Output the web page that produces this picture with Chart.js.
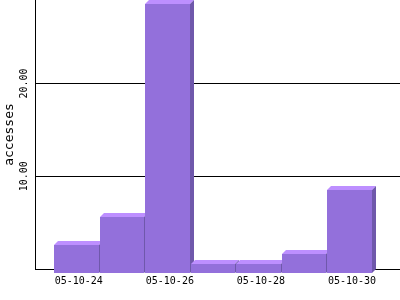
<!DOCTYPE html>
<html>
<head>
<meta charset="utf-8">
<script src="https://cdn.jsdelivr.net/npm/chart.js@4/dist/chart.umd.min.js"></script>
<style>
  html, body { margin: 0; padding: 0; background: #ffffff; }
  #wrap { width: 400px; height: 300px; }
</style>
</head>
<body>
<div id="wrap"><canvas id="c" width="400" height="300"></canvas></div>
<script>
// ---- data ----
const categories = ['05-10-24', '05-10-25', '05-10-26', '05-10-27', '05-10-28', '05-10-29', '05-10-30'];
const accesses   = [3, 6, 29, 1, 1, 2, 9];
const yTickValues = [10, 20];
const yAxisTitle = 'accesses';

// ---- style ----
const FRONT = '#9370db';
const TOP   = '#bd8fff';
const SIDE  = '#6f58ab';
const DEPTH = 4;

const bar3d = {
  id: 'bar3d',
  afterDatasetsDraw(chart) {
    const ctx = chart.ctx;
    const meta = chart.getDatasetMeta(0);
    ctx.save();
    meta.data.forEach(el => {
      const p = el.getProps(['x', 'y', 'base', 'width'], true);
      const half = DEPTH / 2;
      const L = Math.round(p.x - p.width / 2 - half);
      const R = Math.round(p.x + p.width / 2 - half) - 1;
      const T = Math.round(p.y + DEPTH);
      const B = Math.round(p.base + DEPTH);
      ctx.fillStyle = FRONT;
      ctx.fillRect(L, T, R - L, B - T);
      ctx.fillStyle = TOP;
      ctx.beginPath();
      ctx.moveTo(L, T);
      ctx.lineTo(L + DEPTH, T - DEPTH);
      ctx.lineTo(R + DEPTH, T - DEPTH);
      ctx.lineTo(R, T);
      ctx.closePath();
      ctx.fill();
      ctx.fillStyle = SIDE;
      ctx.beginPath();
      ctx.moveTo(R, T);
      ctx.lineTo(R + DEPTH, T - DEPTH);
      ctx.lineTo(R + DEPTH, B - DEPTH);
      ctx.lineTo(R, B);
      ctx.closePath();
      ctx.fill();
    });
    ctx.restore();
  }
};

const points = categories.map((c, i) => ({ x: i, y: accesses[i] }));

new Chart(document.getElementById('c'), {
  type: 'bar',
  data: {
    datasets: [{
      label: yAxisTitle,
      data: points,
      backgroundColor: 'rgba(0,0,0,0)',
      borderWidth: 0,
      barPercentage: 1,
      categoryPercentage: 1
    }]
  },
  options: {
    responsive: false,
    devicePixelRatio: 1,
    animation: false,
    layout: { padding: 0 },
    plugins: { legend: { display: false }, tooltip: { enabled: false } },
    scales: {
      x: {
        type: 'linear',
        offset: false,
        min: -0.961,
        max: 7.054,
        grid: { display: false, drawTicks: false, offset: false },
        border: { display: true, color: '#000000', width: 1 },
        ticks: {
          stepSize: 2,
          includeBounds: false,
          maxRotation: 0,
          autoSkip: false,
          padding: 6,
          color: '#000000',
          font: { family: 'DejaVu Sans Mono', size: 10 },
          callback: v => (Number.isInteger(v) && categories[v] !== undefined) ? categories[v] : ''
        },
        afterFit: s => { s.height = 31; s.paddingLeft = 0; s.paddingRight = 0; }
      },
      y: {
        type: 'linear',
        min: 0,
        max: 29,
        grid: { color: '#000000', lineWidth: 1, drawTicks: false },
        border: { display: true, color: '#000000', width: 1 },
        ticks: {
          stepSize: 10,
          includeBounds: false,
          minRotation: 90,
          maxRotation: 90,
          crossAlign: 'center',
          padding: -4,
          color: '#000000',
          font: { family: 'DejaVu Sans Mono', size: 10 },
          callback: v => yTickValues.includes(v) ? v.toFixed(2) : ''
        },
        title: {
          display: true,
          text: yAxisTitle,
          color: '#000000',
          font: { family: 'DejaVu Sans Mono', size: 13 },
          padding: { top: 2, bottom: 0 }
        },
        afterFit: s => { s.width = 35; s.paddingTop = 0; s.paddingBottom = 0; }
      }
    }
  },
  plugins: [bar3d]
});
</script>
</body>
</html>
